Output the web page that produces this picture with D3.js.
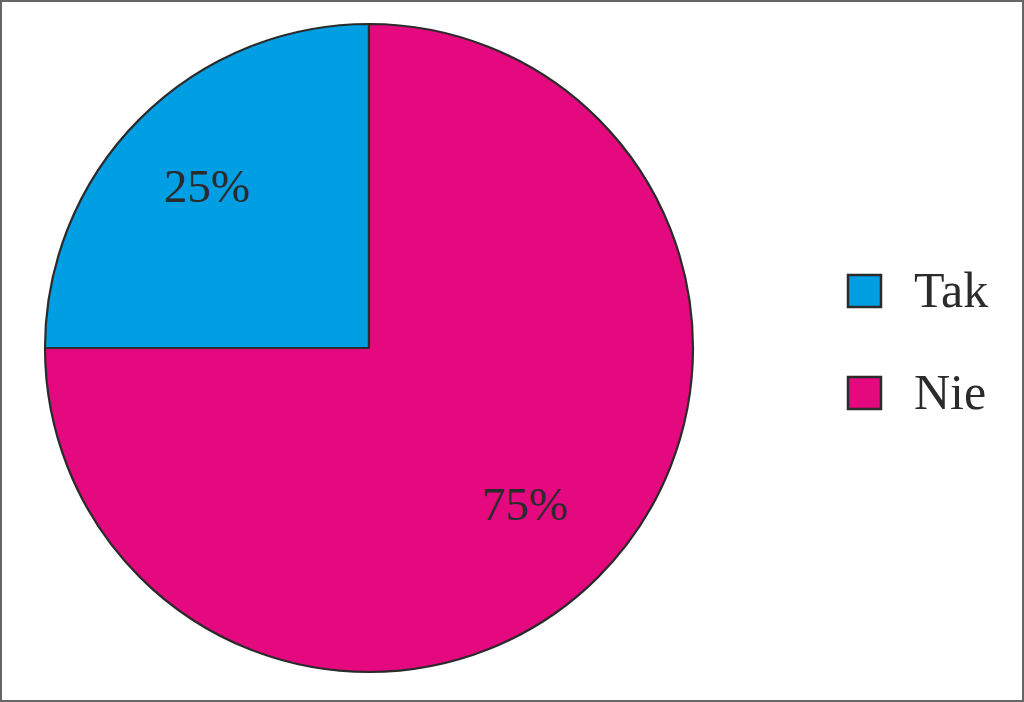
<!DOCTYPE html>
<html><head><meta charset="utf-8">
<script src="https://cdn.jsdelivr.net/npm/d3@7"></script>
<style>html,body{margin:0;padding:0;background:#fff;}svg{display:block;}</style>
</head><body>
<svg id="chart" width="1024" height="702"></svg>
<script>
const categories = ["Tak", "Nie"];
const values = [25, 75];
const labels = ["25%", "75%"];
const colors = ["#009FE3", "#E4097F"];

const svg = d3.select("#chart");
const W = 1024, H = 702;
// frame
svg.append("rect").attr("x", 1).attr("y", 1).attr("width", W - 2).attr("height", H - 2)
  .attr("fill", "#fff").attr("stroke", "#666").attr("stroke-width", 2);

const cx = 369, cy = 348, r = 324;
const g = svg.append("g").attr("transform", `translate(${cx},${cy})`);
const pie = d3.pie().sort(null).value(d => d)
  .startAngle(-Math.PI / 2).endAngle(3 * Math.PI / 2);
const arcs = pie(values);
const arc = d3.arc().innerRadius(0).outerRadius(r);
g.selectAll("path.slice").data(arcs).join("path")
  .attr("class", "slice")
  .attr("d", arc)
  .attr("fill", (d, i) => colors[i])
  .attr("stroke", "#2b2b2b").attr("stroke-width", 2.2).attr("stroke-linejoin", "round");

const labelR = [0.707, 0.68];
g.selectAll("text.pct").data(arcs).join("text")
  .attr("class", "pct")
  .attr("transform", (d, i) => {
    const a = (d.startAngle + d.endAngle) / 2;
    const rr = r * labelR[i];
    return `translate(${rr * Math.sin(a)},${-rr * Math.cos(a)})`;
  })
  .attr("text-anchor", "middle").attr("dy", "0.35em")
  .attr("font-family", "'Liberation Serif', serif").attr("font-size", 47)
  .attr("fill", "#2b2b2b")
  .text((d, i) => labels[i]);

const legend = svg.append("g").attr("transform", "translate(848,275)");
const ly = d3.scalePoint().domain(categories).range([0, 102]);
const items = legend.selectAll("g").data(categories).join("g")
  .attr("transform", d => `translate(0,${ly(d)})`);
items.append("rect").attr("width", 33).attr("height", 32)
  .attr("fill", (d, i) => colors[i]).attr("stroke", "#2b2b2b").attr("stroke-width", 2.5);
items.append("text").attr("x", 66).attr("y", 32)
  .attr("font-family", "'Liberation Serif', serif").attr("font-size", 50)
  .attr("fill", "#2b2b2b").text(d => d);
</script>
</body></html>
